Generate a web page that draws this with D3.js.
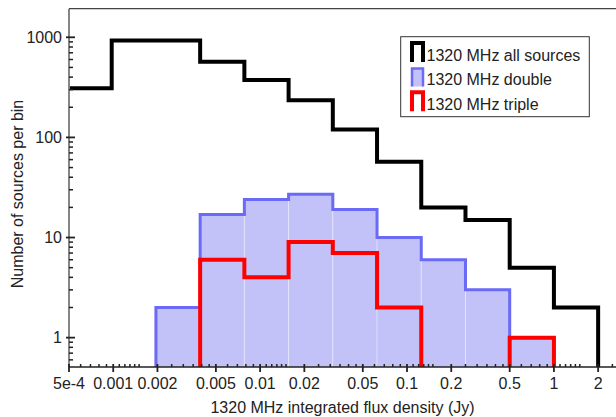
<!DOCTYPE html>
<html><head><meta charset="utf-8">
<script src="https://cdn.jsdelivr.net/npm/d3@7"></script>
<style>
html,body{margin:0;padding:0;background:#fff;}
text{font-family:"Liberation Sans",Arial,sans-serif;fill:#222;}
</style></head>
<body>
<svg id="chart" width="616" height="417"></svg>
<script>
// ---- data ----
const binEdges = [0.00048828125, 0.0009765625, 0.001953125, 0.00390625, 0.0078125,
  0.015625, 0.03125, 0.0625, 0.125, 0.25, 0.5, 1, 2];
const allSources = [310, 930, 930, 570, 375, 235, 120, 57, 20, 15, 5, 2];
const doubles   = [0, 0, 2, 17, 24, 27, 19, 10, 6, 3, 1, 0];
const triples   = [0, 0, 0, 6, 4, 9, 7, 2, 0, 0, 1, 0];
const xTickValues = [5e-4, 0.001, 0.002, 0.005, 0.01, 0.02, 0.05, 0.1, 0.2, 0.5, 1, 2];
const xTickLabels = ["5e-4", "0.001", "0.002", "0.005", "0.01", "0.02", "0.05", "0.1", "0.2", "0.5", "1", "2"];
const yTickValues = [1, 10, 100, 1000];
const yTickLabels = ["1", "10", "100", "1000"];
const legendLabels = ["1320 MHz all sources", "1320 MHz double", "1320 MHz triple"];

// ---- layout ----
const L = 69, R = 616, T = 8.7, B = 367;
const svg = d3.select("#chart");
const x = d3.scaleLog().domain([5e-4, 2.646]).range([L, R]);
const y = d3.scaleLog().domain([0.509, 1930]).range([B, T]);

const colBlack = "#000", colRed = "#ff0000", colBlueLine = "#6a6af6", colBlueFill = "#c2c2f8";

svg.append("defs").append("clipPath").attr("id", "clip")
  .append("rect").attr("x", L + 1).attr("y", T).attr("width", R - L).attr("height", B - T);

const plot = svg.append("g").attr("clip-path", "url(#clip)");

function yv(v) { return v > 0 ? y(v) : B + 6; }
function stepPoints(vals) {
  const pts = [[x(binEdges[0]), B + 6]];
  vals.forEach((v, i) => {
    pts.push([x(binEdges[i]), yv(v)]);
    pts.push([x(binEdges[i + 1]), yv(v)]);
  });
  pts.push([x(binEdges[vals.length]), B + 6]);
  return pts;
}
const line = d3.line();

// blue filled bars
plot.selectAll("rect.dbl").data(doubles.map((v, i) => ({v, i})).filter(d => d.v > 0))
  .enter().append("rect")
  .attr("x", d => x(binEdges[d.i]))
  .attr("width", d => x(binEdges[d.i + 1]) - x(binEdges[d.i]))
  .attr("y", d => y(d.v))
  .attr("height", d => B - y(d.v))
  .attr("fill", colBlueFill)
  .attr("stroke", "rgba(255,255,255,0.35)")
  .attr("stroke-width", 1);

plot.append("path").attr("d", line(stepPoints(doubles)))
  .attr("fill", "none").attr("stroke", colBlueLine).attr("stroke-width", 3);
plot.append("path").attr("d", line(stepPoints(triples)))
  .attr("fill", "none").attr("stroke", colRed).attr("stroke-width", 4);
plot.append("path").attr("d", line(stepPoints(allSources)))
  .attr("fill", "none").attr("stroke", colBlack).attr("stroke-width", 4);

// ---- axes ----
const axisCol = "#222";
svg.append("line").attr("x1", L).attr("x2", R).attr("y1", T).attr("y2", T)
  .attr("stroke", "#444").attr("stroke-width", 1.3);
svg.append("line").attr("x1", L).attr("x2", L).attr("y1", T).attr("y2", B)
  .attr("stroke", "#444").attr("stroke-width", 1.3);
svg.append("line").attr("x1", L).attr("x2", R).attr("y1", B).attr("y2", B)
  .attr("stroke", axisCol).attr("stroke-width", 1.5);

// x minor ticks
const xMinor = [];
const mults = [1.1, 1.2, 1.3, 1.4, 1.5, 2.5, 3, 3.5, 4, 4.5, 6, 7, 8, 9];
[-4, -3, -2, -1, 0].forEach(p => mults.forEach(m => {
  const v = m * Math.pow(10, p);
  if (v > 5e-4 && v < 2.6) xMinor.push(v);
}));
svg.append("g").selectAll("line").data(xMinor).enter().append("line")
  .attr("x1", d => x(d)).attr("x2", d => x(d)).attr("y1", B - 3).attr("y2", B)
  .attr("stroke", axisCol).attr("stroke-width", 1.5);
svg.append("g").selectAll("line").data(xTickValues).enter().append("line")
  .attr("x1", d => x(d)).attr("x2", d => x(d)).attr("y1", B - 3).attr("y2", B + 5)
  .attr("stroke", axisCol).attr("stroke-width", 1.8);
svg.append("g").selectAll("text").data(xTickValues).enter().append("text")
  .attr("x", d => x(d)).attr("y", 389).attr("text-anchor", "middle")
  .attr("font-size", 16).text((d, i) => xTickLabels[i]);

// y ticks
const yMinor = [];
[-1, 0, 1, 2, 3].forEach(p => [2, 3, 4, 5, 6, 7, 8, 9].forEach(m => {
  const v = m * Math.pow(10, p);
  if (v > 0.509 && v < 1930) yMinor.push(v);
}));
svg.append("g").selectAll("line").data(yMinor).enter().append("line")
  .attr("x1", L).attr("x2", L + 4).attr("y1", d => y(d)).attr("y2", d => y(d))
  .attr("stroke", axisCol).attr("stroke-width", 1.5);
svg.append("g").selectAll("line").data(yTickValues).enter().append("line")
  .attr("x1", L - 3).attr("x2", L + 6).attr("y1", d => y(d)).attr("y2", d => y(d))
  .attr("stroke", axisCol).attr("stroke-width", 1.8);
svg.append("g").selectAll("text").data(yTickValues).enter().append("text")
  .attr("x", 62).attr("y", d => y(d)).attr("dy", "0.35em").attr("text-anchor", "end")
  .attr("font-size", 16).text((d, i) => yTickLabels[i]);

// axis titles
svg.append("text").attr("x", 342.5).attr("y", 413).attr("text-anchor", "middle")
  .attr("font-size", 16).text("1320 MHz integrated flux density (Jy)");
svg.append("text").attr("transform", "translate(23,194) rotate(-90)")
  .attr("text-anchor", "middle").attr("font-size", 16).text("Number of sources per bin");

// ---- legend ----
const lg = svg.append("g");
lg.append("rect").attr("x", 400.7).attr("y", 36.7).attr("width", 188.6).attr("height", 80)
  .attr("fill", "#fff").attr("stroke", "#333").attr("stroke-width", 1);
const rowY = [55, 79.5, 104.3];
const symX0 = 412, symX1 = 423;
[0, 1, 2].forEach(i => {
  const cy = rowY[i];
  const top = cy - 12, bot = cy + 7;
  if (i === 1) {
    lg.append("rect").attr("x", symX0).attr("y", top + 1).attr("width", symX1 - symX0)
      .attr("height", bot - top - 1).attr("fill", colBlueFill);
    lg.append("path").attr("d", line([[symX0, bot], [symX0, top + 1], [symX1, top + 1], [symX1, bot]]))
      .attr("fill", "none").attr("stroke", colBlueLine).attr("stroke-width", 2.5);
  } else {
    lg.append("path").attr("d", line([[symX0, bot], [symX0, top], [symX1, top], [symX1, bot]]))
      .attr("fill", "none").attr("stroke", i === 0 ? colBlack : colRed).attr("stroke-width", 4);
  }
  lg.append("text").attr("x", 426.5).attr("y", cy).attr("dy", "0.35em")
    .attr("font-size", 16).text(legendLabels[i]);
});
</script>
</body></html>
